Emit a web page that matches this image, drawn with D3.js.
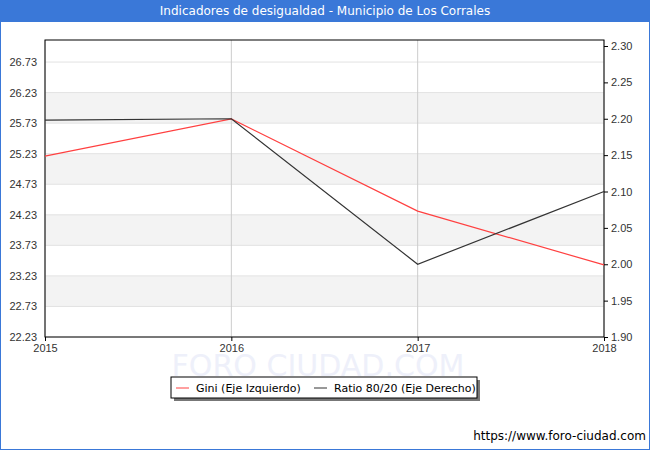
<!DOCTYPE html>
<html><head><meta charset="utf-8">
<script src="https://cdn.jsdelivr.net/npm/d3@7"></script>
<style>body{margin:0}svg{font-family:Verdana,"DejaVu Sans",sans-serif}</style>
</head><body><svg id="c" width="650" height="450"></svg>
<script>
const years=[2015,2016,2017,2018]
const gini=[25.19,25.80,24.29,23.41]
const ratio=[2.198,2.20,2.00,2.10]
const leftTicks=[22.23,22.73,23.23,23.73,24.23,24.73,25.23,25.73,26.23,26.73]
const rightTicks=[1.90,1.95,2.00,2.05,2.10,2.15,2.20,2.25,2.30]

const svg=d3.select('#c')
const m={l:45,r:604,t:40,b:337}
svg.append('rect').attr('x',0.5).attr('y',0.5).attr('width',649).attr('height',449).attr('fill','#fff').attr('stroke','#3a78d8')
svg.append('rect').attr('width',650).attr('height',22).attr('fill','#3a78d8')
svg.append('text').attr('x',325).attr('y',15).attr('text-anchor','middle').attr('fill','#fff').attr('font-size',12)
  .text('Indicadores de desigualdad - Municipio de Los Corrales')

const x=d3.scaleLinear().domain([2015,2018]).range([m.l,m.r])
const yl=d3.scaleLinear().domain([22.23,22.23+(m.b-m.t)/61.1]).range([m.b,m.t])
const yr=d3.scaleLinear().domain([1.90,1.90+(m.b-m.t)/727.5]).range([m.b,m.t])

const g=svg.append('g')
for(let i=0;i<leftTicks.length-1;i++){
  if(i%2===1) g.append('rect').attr('x',m.l).attr('width',m.r-m.l)
    .attr('y',yl(leftTicks[i+1])).attr('height',yl(leftTicks[i])-yl(leftTicks[i+1])).attr('fill','#f3f3f3')
}
leftTicks.forEach(t=>g.append('line').attr('x1',m.l).attr('x2',m.r).attr('y1',yl(t)).attr('y2',yl(t)).attr('stroke','#e2e2e2'))
years.forEach(yv=>g.append('line').attr('x1',x(yv)).attr('x2',x(yv)).attr('y1',m.t).attr('y2',m.b).attr('stroke','#ccc'))
svg.append('rect').attr('x',m.l).attr('y',m.t).attr('width',m.r-m.l).attr('height',m.b-m.t).attr('fill','none').attr('stroke','#000')

svg.append('text').attr('x',318).attr('y',376).attr('text-anchor','middle').attr('font-size',30).attr('fill','#eef0fa').text('FORO CIUDAD.COM')

svg.append('g').attr('transform',`translate(0,${m.b})`).call(d3.axisBottom(x).tickValues(years).tickFormat(d3.format('d')).tickSize(4))
  .call(a=>a.select('.domain').remove()).attr('font-size',11)
svg.append('g').attr('transform',`translate(${m.l},0)`).call(d3.axisLeft(yl).tickValues(leftTicks).tickFormat(d3.format('.2f')).tickSize(0).tickPadding(8))
  .call(a=>a.select('.domain').remove()).attr('font-size',11)
svg.append('g').attr('transform',`translate(${m.r},0)`).call(d3.axisRight(yr).tickValues(rightTicks).tickFormat(d3.format('.2f')).tickSize(4))
  .call(a=>a.select('.domain').remove()).attr('font-size',11)
svg.selectAll('.tick text').attr('fill','#333')

const lg=d3.line().x((d,i)=>x(years[i])).y(d=>yl(d))
const lr=d3.line().x((d,i)=>x(years[i])).y(d=>yr(d))
svg.append('path').datum(gini).attr('d',lg).attr('fill','none').attr('stroke','#ff4040').attr('stroke-width',1.2)
svg.append('path').datum(ratio).attr('d',lr).attr('fill','none').attr('stroke','#333').attr('stroke-width',1.2)

const L=svg.append('g')
L.append('rect').attr('x',174).attr('y',380).attr('width',306).attr('height',21).attr('fill','#777')
L.append('rect').attr('x',171).attr('y',377).attr('width',306).attr('height',21).attr('fill','#fff').attr('stroke','#000')
L.append('line').attr('x1',176).attr('x2',189).attr('y1',388).attr('y2',388).attr('stroke','#ff4040')
L.append('text').attr('x',196).attr('y',392).attr('font-size',11).text('Gini (Eje Izquierdo)')
L.append('line').attr('x1',314).attr('x2',327).attr('y1',388).attr('y2',388).attr('stroke','#333')
L.append('text').attr('x',334).attr('y',392).attr('font-size',11).text('Ratio 80/20 (Eje Derecho)')

svg.append('text').attr('x',646).attr('y',440).attr('text-anchor','end').attr('font-size',12).text('https://www.foro-ciudad.com')
</script></body></html>
